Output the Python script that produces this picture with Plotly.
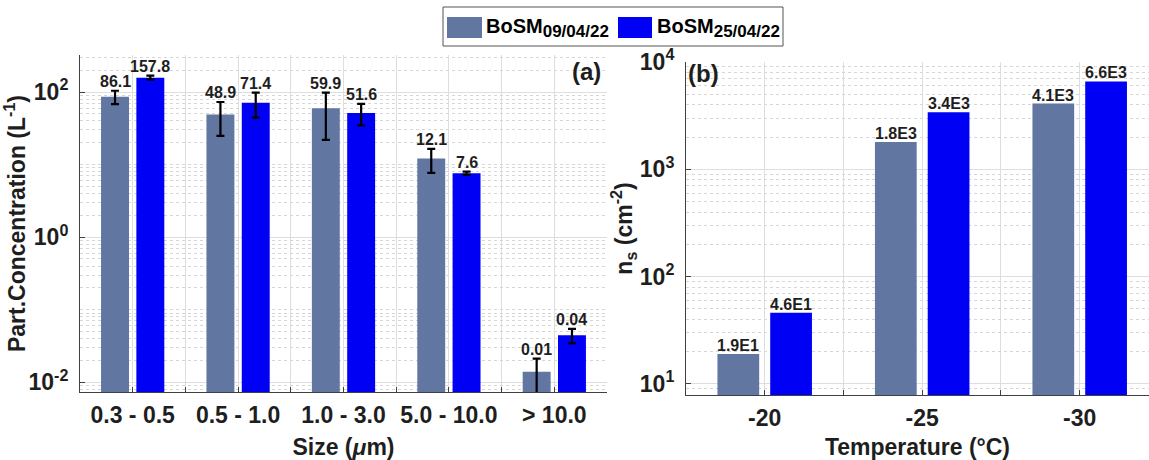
import math
import plotly.graph_objects as go

# ---------------- data ----------------
size_bins = ["0.3 - 0.5", "0.5 - 1.0", "1.0 - 3.0", "5.0 - 10.0", "> 10.0"]
conc_0904 = [86.1, 48.9, 59.9, 12.1, 0.014]
conc_2504 = [157.8, 71.4, 51.6, 7.6, 0.0445]
err_0904 = [18, 24, 38, 4.4, 0.0072]
err_2504 = [10, 27, 17, 0.4, 0.01]
conc_labels_0904 = ["86.1", "48.9", "59.9", "12.1", "0.01"]
conc_labels_2504 = ["157.8", "71.4", "51.6", "7.6", "0.04"]

temps = ["-20", "-25", "-30"]
ns_0904 = [19, 1800, 4100]
ns_2504 = [46, 3400, 6600]
ns_labels_0904 = ["1.9E1", "1.8E3", "4.1E3"]
ns_labels_2504 = ["4.6E1", "3.4E3", "6.6E3"]

series_names = ["BoSM<sub><span style='font-size:17px'>09/04/22</span></sub>",
                "BoSM<sub><span style='font-size:17px'>25/04/22</span></sub>"]
left_ytickvals = [1e-2, 1, 1e2]
left_yticktext = ["10<sup>-2</sup>", "10<sup>0</sup>", "10<sup>2</sup>"]
right_ytickvals = [1e1, 1e2, 1e3, 1e4]
right_yticktext = ["10<sup>1</sup>", "10<sup>2</sup>", "10<sup>3</sup>", "10<sup>4</sup>"]

# ---------------- style ----------------
GRAY = "#6176A1"
BLUE = "#0000F5"
COLORS = [GRAY, BLUE]
BAR_W = 0.265
OFFSETS = [-0.30, 0.035]
AXC = "#404040"
GRID = "#DEDEDE"
MINOR_GRID = "#D6D6D6"
FONT = "Liberation Sans, Arial, sans-serif"
TXT = "#1E1E1E"
TICK_SIZE = 23


def minor_vals(kmin, kmax, majors):
    out = []
    for k in range(kmin, kmax + 1):
        for m in range(1, 10):
            v = m * 10.0 ** k
            if not any(abs(v - t) / t < 1e-9 for t in majors):
                out.append(v)
    return out


fig = go.Figure()

idx_a = list(range(len(size_bins)))
idx_b = list(range(len(temps)))

for s, (vals, errs, labels) in enumerate([(conc_0904, err_0904, conc_labels_0904),
                                          (conc_2504, err_2504, conc_labels_2504)]):
    fig.add_trace(go.Bar(
        x=idx_a, y=vals, width=BAR_W, offset=OFFSETS[s],
        marker=dict(color=COLORS[s], line=dict(width=0)),
        error_y=dict(type="data", array=errs, color="black", thickness=2.2, width=4),
        xaxis="x", yaxis="y", showlegend=False, name=series_names[s]))
    for i, (v, e, lab) in enumerate(zip(vals, errs, labels)):
        # annotation positions on a log axis are given in log10 units
        fig.add_annotation(x=i + OFFSETS[s] + BAR_W / 2, y=math.log10(v + e),
                           xref="x", yref="y",
                           text=lab, showarrow=False, yanchor="bottom", yshift=-1,
                           font=dict(size=16, family=FONT, color=TXT, weight="bold"))

for s, (vals, labels) in enumerate([(ns_0904, ns_labels_0904), (ns_2504, ns_labels_2504)]):
    fig.add_trace(go.Bar(
        x=idx_b, y=vals, width=BAR_W, offset=OFFSETS[s],
        marker=dict(color=COLORS[s], line=dict(width=0)),
        xaxis="x2", yaxis="y2", showlegend=False, name=series_names[s]))
    for i, (v, lab) in enumerate(zip(vals, labels)):
        fig.add_annotation(x=i + OFFSETS[s] + BAR_W / 2, y=math.log10(v),
                           xref="x2", yref="y2",
                           text=lab, showarrow=False, yanchor="bottom", yshift=-2,
                           font=dict(size=16, family=FONT, color=TXT, weight="bold"))

title_font = dict(size=TICK_SIZE, family=FONT, color=TXT, weight="bold")
xcommon = dict(type="linear", tickmode="array", ticks="inside", ticklen=5, tickwidth=1,
               tickcolor=AXC, showline=True, linecolor=AXC, linewidth=1, mirror=False,
               showgrid=True, gridcolor=GRID, gridwidth=1, zeroline=False,
               automargin=False, ticklabelstandoff=2,
               tickfont=dict(size=TICK_SIZE, family=FONT, color=TXT, weight="bold"),
               minor=dict(tickmode="linear", tick0=0.5, dtick=1, ticks="inside", ticklen=5,
                          tickcolor=AXC, showgrid=True, gridcolor=GRID, gridwidth=1))
ycommon = dict(type="log", tickmode="array", ticks="inside", ticklen=5, tickwidth=1,
               tickcolor=AXC, showline=True, linecolor=AXC, linewidth=1,
               showgrid=True, gridcolor=GRID, gridwidth=1, zeroline=False,
               automargin=False, ticklabelstandoff=6,
               tickfont=dict(size=TICK_SIZE, family=FONT, color=TXT, weight="bold"))

fig.update_layout(
    width=1149, height=460,
    margin=dict(l=0, r=0, t=0, b=0, autoexpand=False),
    paper_bgcolor="white", plot_bgcolor="white",
    font=dict(family=FONT, color=TXT, weight="bold"),
    barmode="overlay",
    xaxis=dict(xcommon, domain=[0.0696, 0.5283], range=[-0.5, 4.5], anchor="y",
               tickvals=idx_a, ticktext=size_bins,
               title=dict(text="Size (<i>μ</i>m)", standoff=12, font=title_font)),
    yaxis=dict(ycommon, domain=[0.1478, 0.8804], range=[-2.134, 2.51], anchor="x",
               tickvals=left_ytickvals, ticktext=left_yticktext,
               minor=dict(tickmode="array", tickvals=minor_vals(-3, 3, left_ytickvals),
                          ticks="", showgrid=True, gridcolor=MINOR_GRID, griddash="dot",
                          gridwidth=1),
               title=dict(text="Part.Concentration (L<sup>-1</sup>)", standoff=0,
                          font=title_font)),
    xaxis2=dict(xcommon, domain=[0.597, 1.0], range=[-0.5, 2.44], anchor="y2",
                tickvals=idx_b, ticktext=temps,
                title=dict(text="Temperature (°C)", standoff=11, font=title_font)),
    yaxis2=dict(ycommon, domain=[0.1413, 0.8652], range=[0.8975, 4.0], anchor="x2",
                tickvals=right_ytickvals, ticktext=right_yticktext,
                minor=dict(tickmode="array", tickvals=minor_vals(0, 4, right_ytickvals),
                           ticks="", showgrid=True, gridcolor=MINOR_GRID, griddash="dot",
                           gridwidth=1),
                title=dict(text="n<sub>s</sub> (cm<sup>-2</sup>)", standoff=0,
                           font=title_font)),
)

# panel letters
fig.add_annotation(x=0.992, y=0.985, xref="x domain", yref="y domain", text="(a)",
                   showarrow=False, xanchor="right", yanchor="top", yshift=4,
                   font=dict(size=24, family=FONT, color=TXT, weight="bold"))
fig.add_annotation(x=0.0, y=1.0, xref="x2 domain", yref="y2 domain", text="(b)",
                   showarrow=False, xanchor="left", yanchor="top", yshift=4,
                   font=dict(size=24, family=FONT, color=TXT, weight="bold"))

# legend (custom box)
W, H = 1149.0, 460.0
fig.add_shape(type="rect", xref="paper", yref="paper",
              x0=443 / W, x1=783 / W, y0=1 - 46 / H, y1=1 - 7 / H,
              line=dict(color="#555555", width=1), fillcolor="white")
patch_x = [(447, 482), (618, 652)]
text_x = [484, 655]
for s in range(2):
    fig.add_shape(type="rect", xref="paper", yref="paper",
                  x0=patch_x[s][0] / W, x1=patch_x[s][1] / W,
                  y0=1 - 38 / H, y1=1 - 17 / H,
                  line=dict(width=0), fillcolor=COLORS[s])
    fig.add_annotation(x=text_x[s] / W, y=1 - 28 / H, xref="paper", yref="paper",
                       text=series_names[s], showarrow=False, xanchor="left",
                       yanchor="middle",
                       font=dict(size=20, family=FONT, color="black", weight="bold"))

fig.write_html("out.html", config={"displayModeBar": False},
               post_script="document.body.style.margin='0';document.body.style.overflow='hidden';")
